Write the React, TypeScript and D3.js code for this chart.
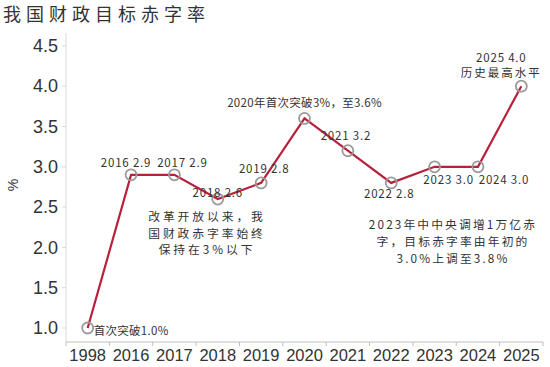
import React from "react";
import * as d3 from "d3";

const years = ["1998", "2016", "2017", "2018", "2019", "2020", "2021", "2022", "2023", "2024", "2025"];
const deficit = [1.0, 2.9, 2.9, 2.6, 2.8, 3.6, 3.2, 2.8, 3.0, 3.0, 4.0];
const yTicks = [1.0, 1.5, 2.0, 2.5, 3.0, 3.5, 4.0, 4.5];
const pointLabels = ["首次突破1.0%", "2016\u00a02.9", "2017\u00a02.9", "2018\u00a02.6", "2019\u00a02.8", "2020年首次突破3%，至3.6%", "2021\u00a03.2", "2022\u00a02.8", "2023\u00a03.0", "2024\u00a03.0", "2025\u00a04.0"];
const title = "我国财政目标赤字率";
const note1 = ["改革开放以来，我", "国财政赤字率始终", "保持在3%以下"];
const note2 = ["2023年中中央调增1万亿赤", "字，目标赤字率由年初的", "3.0%上调至3.8%"];
const note2025 = "历史最高水平";

// label offsets (dx, dy, anchor) relative to points
const labelPos: [number, number, string][] = [
  [6, 3, "start"],
  [-5, -12, "middle"],
  [8, -12, "middle"],
  [0, -6, "middle"],
  [3, -14, "middle"],
  [0, -15, "middle"],
  [-2, -15, "middle"],
  [-2, 11, "middle"],
  [14, 13, "middle"],
  [26, 13, "middle"],
  [-20, -28, "middle"],
];

export default function App() {
  const W = 550, H = 367;
  const left = 66, right = 543, top = 33, bottom = 342;
  const x = d3.scaleBand<string>().domain(years).range([left, right]);
  const y = d3.scaleLinear().domain([0.826, 4.66]).range([bottom, top]);
  const cx = (i: number) => (x(years[i]) as number) + x.bandwidth() / 2;
  const line = d3.line<number>()
    .x((_, i) => cx(i))
    .y((d) => y(d));
  const font = "'Noto Sans CJK SC', sans-serif";
  const textColor = "#333";
  const boundaries = years.map((yr) => x(yr) as number).concat([right]);
  return (
    <svg width={W} height={H} style={{ position: "absolute", left: 0, top: 0 }} fontFamily={font}>
      <rect width={W} height={H} fill="#fff" />
      <text x={3} y={21} fontSize={18} letterSpacing={5} fill={textColor}>{title}</text>
      {/* y axis */}
      <line x1={left} x2={left} y1={top} y2={bottom} stroke="#d9d9d9" />
      {yTicks.map((t) => (
        <g key={t}>
          <line x1={left - 4} x2={left} y1={y(t)} y2={y(t)} stroke="#d9d9d9" />
          <text x={left - 8} y={y(t)} dy="0.35em" textAnchor="end" fontFamily="'Liberation Sans', Arial, sans-serif" fontSize={18} fill={textColor}>{t.toFixed(1)}</text>
        </g>
      ))}
      <text transform={`translate(18,185) rotate(-90)`} textAnchor="middle" fontFamily="'Liberation Sans', Arial, sans-serif" fontSize={14} fill={textColor}>%</text>
      {/* x axis */}
      <line x1={left} x2={right} y1={bottom} y2={bottom} stroke="#bfbfbf" />
      {boundaries.map((b, i) => (
        <line key={i} x1={b} x2={b} y1={bottom} y2={bottom + 4} stroke="#bfbfbf" />
      ))}
      {years.map((yr, i) => (
        <text key={yr} x={cx(i)} y={bottom + 19} textAnchor="middle" fontFamily="'Liberation Sans', Arial, sans-serif" fontSize={16.5} fill={textColor}>{yr}</text>
      ))}
      <path d={line(deficit) || ""} fill="none" stroke="#b8213b" strokeWidth={2.2} />
      {deficit.map((v, i) => (
        <circle key={i} cx={cx(i)} cy={y(v)} r={5.5} fill="none" stroke="#9a9a9a" strokeWidth={1.8} />
      ))}
      {deficit.map((v, i) => {
        const [dx, dy, anchor] = labelPos[i];
        return (
          <text key={i} x={cx(i) + dx} y={y(v) + dy} dy="0.35em" textAnchor={anchor as any} fontSize={11.5} letterSpacing={i === 0 || i === 5 ? 0.3 : 0.8} fill={textColor}>{pointLabels[i]}</text>
        );
      })}
      <text x={cx(10) - 20} y={y(4.0) - 9} textAnchor="middle" fontSize={11.5} letterSpacing={2} fill={textColor}>{note2025}</text>
      {note1.map((s, i) => (
        <text key={i} x={207} y={221 + i * 16.5} textAnchor="middle" fontSize={11.8} letterSpacing={2.9} fill={textColor}>{s}</text>
      ))}
      {note2.map((s, i) => (
        <text key={i} x={453} y={229 + i * 17.2} textAnchor="middle" fontSize={11.8} letterSpacing={2.1} fill={textColor}>{s}</text>
      ))}
    </svg>
  );
}
